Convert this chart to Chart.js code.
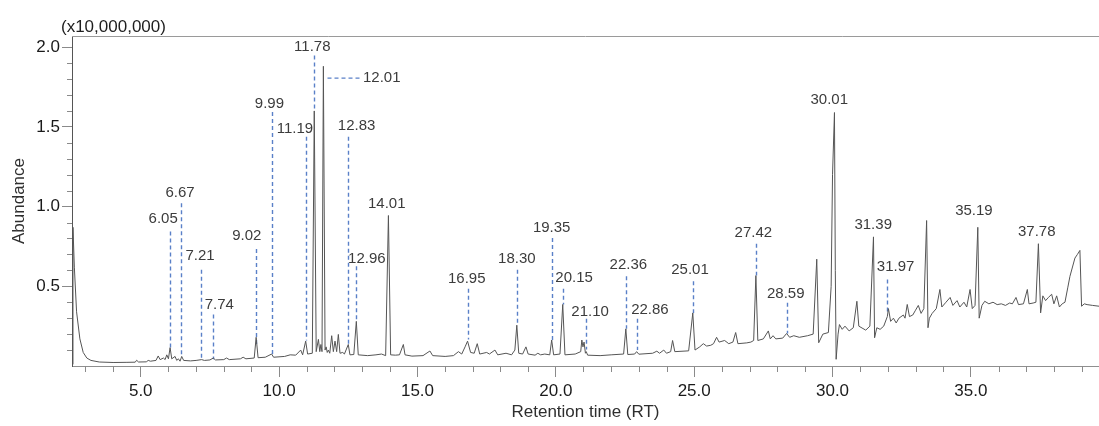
<!DOCTYPE html>
<html>
<head>
<meta charset="utf-8">
<script src="https://cdn.jsdelivr.net/npm/chart.js@4.4.1/dist/chart.umd.min.js"></script>
<style>
  body { margin: 0; background: #fff; }
</style>
</head>
<body>
<canvas id="gc" width="1099" height="426"></canvas>
<script>
// chromatogram trace (RT in min, abundance x10,000,000)
var rt = [2.52, 2.55, 2.60, 2.68, 2.80, 2.92, 3.05, 3.2, 3.5, 4.0, 4.5, 4.8, 4.85, 4.92, 5.2, 5.27, 5.35, 5.55, 5.63, 5.7,
  5.82, 5.88, 5.94, 6.0, 6.06, 6.12, 6.24, 6.3, 6.36, 6.42, 6.48, 6.55, 6.8, 7.0, 7.2, 7.3, 7.5, 7.62, 7.7, 8.0,
  8.1, 8.2, 8.6, 8.7, 8.8, 9.1, 9.17, 9.24, 9.5, 9.73, 9.8, 10.2, 10.4, 10.6, 10.78, 10.85, 10.96, 11.03, 11.2, 11.27,
  11.34, 11.42, 11.47, 11.51, 11.55, 11.60, 11.66, 11.70, 11.74, 11.78, 11.83, 11.90, 11.96, 12.02, 12.08, 12.14, 12.2, 12.3, 12.36, 12.50,
  12.56, 12.7, 12.79, 12.86, 13.2, 13.5, 13.7, 13.85, 13.95, 14.03, 14.2, 14.35, 14.49, 14.55, 14.8, 15.2, 15.45, 15.55, 16.0, 16.3,
  16.48, 16.6, 16.72, 16.81, 16.92, 17.05, 17.16, 17.25, 17.5, 17.6, 17.8, 17.9, 18.2, 18.4, 18.52, 18.59, 18.66, 18.8, 18.92, 19.0,
  19.25, 19.35, 19.45, 19.6, 19.78, 19.85, 19.92, 20.15, 20.25, 20.33, 20.7, 20.9, 20.94, 20.98, 21.02, 21.07, 21.1, 21.15, 21.6, 22.0,
  22.45, 22.53, 22.6, 22.85, 22.92, 23.0, 23.5, 23.65, 23.75, 23.9, 24.0, 24.15, 24.22, 24.3, 24.8, 24.95, 25.03, 25.2, 25.33, 25.45,
  25.6, 25.7, 25.81, 25.9, 26.1, 26.25, 26.4, 26.5, 26.58, 26.9, 27.05, 27.15, 27.23, 27.3, 27.5, 27.68, 27.75, 27.85, 27.95, 28.2,
  28.34, 28.45, 28.6, 28.8, 29.1, 29.3, 29.43, 29.5, 29.65, 29.85, 29.95, 30.0, 30.07, 30.10, 30.13, 30.2, 30.25, 30.35, 30.45, 30.6,
  30.75, 30.88, 30.95, 31.1, 31.2, 31.35, 31.48, 31.52, 31.6, 31.72, 31.85, 31.98, 32.02, 32.1, 32.2, 32.3, 32.4, 32.56, 32.62, 32.7,
  32.78, 32.9, 33.0, 33.1, 33.2, 33.3, 33.4, 33.45, 33.5, 33.6, 33.75, 33.88, 33.95, 34.1, 34.25, 34.35, 34.5, 34.6, 34.75, 34.85,
  34.97, 35.05, 35.15, 35.25, 35.3, 35.4, 35.5, 35.65, 35.8, 35.95, 36.1, 36.25, 36.4, 36.5, 36.63, 36.72, 36.9, 37.04, 37.1, 37.25,
  37.35, 37.44, 37.52, 37.6, 37.7, 37.8, 37.92, 38.0, 38.1, 38.2, 38.3, 38.4, 38.5, 38.58, 38.76, 38.85, 38.94, 39.0, 39.1, 39.2,
  39.4, 39.63];
var abundance = [0.01, 0.87, 0.62, 0.34, 0.17, 0.085, 0.05, 0.035, 0.025, 0.022, 0.023, 0.024, 0.036, 0.025, 0.026, 0.035, 0.03, 0.035, 0.063, 0.04,
  0.05, 0.04, 0.07, 0.045, 0.115, 0.045, 0.06, 0.035, 0.045, 0.03, 0.06, 0.035, 0.032, 0.035, 0.04, 0.035, 0.038, 0.05, 0.038, 0.04,
  0.05, 0.04, 0.045, 0.055, 0.045, 0.05, 0.18, 0.052, 0.055, 0.075, 0.055, 0.06, 0.07, 0.068, 0.10, 0.07, 0.156, 0.075, 0.08, 1.60,
  0.09, 0.167, 0.09, 0.135, 0.09, 1.88, 0.10, 0.12, 0.085, 0.10, 0.08, 0.19, 0.09, 0.156, 0.09, 0.198, 0.08, 0.085, 0.075, 0.135,
  0.07, 0.072, 0.28, 0.07, 0.065, 0.07, 0.075, 0.065, 0.944, 0.07, 0.068, 0.07, 0.135, 0.07, 0.062, 0.065, 0.094, 0.065, 0.06, 0.065,
  0.09, 0.075, 0.12, 0.156, 0.085, 0.08, 0.14, 0.075, 0.085, 0.075, 0.10, 0.07, 0.08, 0.07, 0.10, 0.256, 0.08, 0.075, 0.12, 0.075,
  0.068, 0.08, 0.07, 0.075, 0.07, 0.163, 0.07, 0.075, 0.386, 0.07, 0.075, 0.09, 0.163, 0.12, 0.15, 0.08, 0.09, 0.068, 0.065, 0.07,
  0.075, 0.233, 0.072, 0.075, 0.09, 0.074, 0.08, 0.093, 0.08, 0.10, 0.08, 0.09, 0.16, 0.09, 0.095, 0.333, 0.10, 0.12, 0.14, 0.125,
  0.13, 0.14, 0.18, 0.15, 0.16, 0.14, 0.15, 0.21, 0.14, 0.145, 0.15, 0.16, 0.567, 0.16, 0.17, 0.22, 0.17, 0.19, 0.17, 0.175,
  0.204, 0.18, 0.19, 0.18, 0.19, 0.20, 0.67, 0.146, 0.20, 0.21, 0.5, 1.2, 1.59, 0.6, 0.042, 0.20, 0.26, 0.23, 0.25, 0.22,
  0.24, 0.406, 0.25, 0.235, 0.225, 0.25, 0.81, 0.177, 0.24, 0.23, 0.25, 0.31, 0.36, 0.28, 0.30, 0.27, 0.30, 0.32, 0.30, 0.386,
  0.31, 0.32, 0.35, 0.38, 0.33, 0.36, 0.9125, 0.24, 0.30, 0.33, 0.36, 0.48, 0.37, 0.40, 0.43, 0.38, 0.41, 0.37, 0.40, 0.37,
  0.48, 0.36, 0.38, 0.87, 0.30, 0.38, 0.406, 0.39, 0.40, 0.385, 0.39, 0.38, 0.395, 0.39, 0.43, 0.385, 0.39, 0.48, 0.39, 0.395,
  0.40, 0.767, 0.333, 0.44, 0.41, 0.43, 0.45, 0.39, 0.44, 0.37, 0.39, 0.40, 0.49, 0.5625, 0.677, 0.70, 0.725, 0.375, 0.39, 0.385,
  0.38, 0.375];

// peak labels: text position and the dashed leader under each one (null = no leader)
var peakNames = ['6.05', '6.67', '7.21', '7.74', '9.02', '9.99', '11.19', '11.78', '12.01', '12.83', '12.96', '14.01',
  '16.95', '18.30', '19.35', '20.15', '21.10', '22.36', '22.86', '25.01', '27.42', '28.59', '30.01', '31.39', '31.97', '35.19', '37.78'];
var labelRT = [5.81, 6.42, 7.14, 7.84, 8.83, 9.65, 10.57, 11.20, 13.71, 12.80, 13.17, 13.89,
  16.78, 18.59, 19.85, 20.66, 21.24, 22.62, 23.40, 24.85, 27.14, 28.31, 29.88, 31.47, 32.28, 35.11, 37.38];
var labelAb = [0.921, 1.084, 0.692, 0.381, 0.817, 1.646, 1.490, 2.000, 1.806, 1.504, 0.671, 1.017,
  0.546, 0.671, 0.865, 0.553, 0.338, 0.636, 0.354, 0.604, 0.834, 0.454, 1.667, 0.886, 0.619, 0.975, 0.844];
var leaderRT1 = [6.06, 6.45, 7.17, 7.62, 9.17, 9.73, 10.96, 11.27, 11.72, 12.50, 12.79, null,
  16.82, 18.59, 19.85, 20.25, 21.09, 22.53, 22.92, 24.95, 27.23, 28.34, null, null, 31.98, null, null];
var leaderRT2 = [6.06, 6.45, 7.17, 7.62, 9.17, 9.73, 10.96, 11.27, 12.99, 12.50, 12.79, null,
  16.82, 18.59, 19.85, 20.25, 21.09, 22.53, 22.92, 24.95, 27.23, 28.34, null, null, 31.98, null, null];
var leaderTop = [0.844, 1.021, 0.604, 0.323, 0.734, 1.594, 1.438, 1.948, 1.806, 1.438, 0.625, null,
  0.484, 0.604, 0.803, 0.484, 0.296, 0.563, 0.296, 0.531, 0.767, 0.396, null, null, 0.542, null, null];
var leaderBottom = [0.115, 0.0625, 0.042, 0.042, 0.125, 0.073, 0.16, 1.60, 1.806, 0.135, 0.29, null,
  0.167, 0.26, 0.146, 0.386, 0.104, 0.234, 0.10, 0.333, 0.567, 0.204, null, null, 0.333, null, null];

var FONT = '"Liberation Sans", Arial, sans-serif';

var points = rt.map(function (t, i) { return { x: t, y: abundance[i] }; });

var isMajorX = function (v) { return Math.abs(v / 5 - Math.round(v / 5)) < 1e-6; };
var isMajorY = function (v) { return v > 0.01 && Math.abs(v * 2 - Math.round(v * 2)) < 1e-6; };

var peakLabels = {
  id: 'peakLabels',
  beforeDatasetsDraw: function (chart) {
    var ctx = chart.ctx, xs = chart.scales.x, ys = chart.scales.y;
    ctx.save();
    ctx.strokeStyle = '#5a80c8';
    ctx.lineWidth = 1.4;
    ctx.setLineDash([4, 3]);
    for (var i = 0; i < peakNames.length; i++) {
      if (leaderRT1[i] === null) continue;
      ctx.beginPath();
      ctx.moveTo(Math.round(xs.getPixelForValue(leaderRT1[i])) + 0.5, ys.getPixelForValue(leaderTop[i]));
      ctx.lineTo(Math.round(xs.getPixelForValue(leaderRT2[i])) + 0.5, ys.getPixelForValue(leaderBottom[i]));
      ctx.stroke();
    }
    ctx.restore();
  },
  afterDatasetsDraw: function (chart) {
    var ctx = chart.ctx, xs = chart.scales.x, ys = chart.scales.y;
    ctx.save();
    ctx.fillStyle = '#3c3c3c';
    ctx.font = '15px ' + FONT;
    ctx.textAlign = 'center';
    ctx.textBaseline = 'middle';
    for (var i = 0; i < peakNames.length; i++) {
      ctx.fillText(peakNames[i], xs.getPixelForValue(labelRT[i]), ys.getPixelForValue(labelAb[i]));
    }
    ctx.restore();
  }
};

var axisExtras = {
  id: 'axisExtras',
  afterDraw: function (chart) {
    var ctx = chart.ctx, a = chart.chartArea, xs = chart.scales.x, ys = chart.scales.y;
    ctx.save();
    // frame line along the top
    ctx.strokeStyle = '#9a9a9a';
    ctx.lineWidth = 1;
    ctx.beginPath();
    ctx.moveTo(a.left, Math.round(a.top) + 0.5);
    ctx.lineTo(a.right, Math.round(a.top) + 0.5);
    ctx.stroke();
    // minor ticks
    ctx.strokeStyle = '#8a8a8a';
    xs.ticks.forEach(function (t) {
      if (isMajorX(t.value)) return;
      var px = Math.round(xs.getPixelForValue(t.value)) + 0.5;
      ctx.beginPath(); ctx.moveTo(px, a.bottom); ctx.lineTo(px, a.bottom + 6); ctx.stroke();
    });
    ys.ticks.forEach(function (t) {
      if (isMajorY(t.value) || t.value < 0.01) return;
      var py = Math.round(ys.getPixelForValue(t.value)) + 0.5;
      ctx.beginPath(); ctx.moveTo(a.left - 5, py); ctx.lineTo(a.left, py); ctx.stroke();
    });
    // multiplier above the y axis
    ctx.fillStyle = '#1e1e1e';
    ctx.font = '17px ' + FONT;
    ctx.textAlign = 'left';
    ctx.textBaseline = 'middle';
    ctx.fillText('(x10,000,000)', 61, 27);
    ctx.restore();
  }
};

var gc = new Chart(document.getElementById('gc'), {
  type: 'line',
  data: {
    datasets: [{
      label: 'TIC',
      data: points,
      borderColor: '#555555',
      borderWidth: 1,
      pointRadius: 0,
      fill: false,
      tension: 0
    }]
  },
  options: {
    responsive: false,
    animation: false,
    layout: { padding: { top: 36, right: 0, left: 0, bottom: 0 } },
    plugins: { legend: { display: false }, tooltip: { enabled: false } },
    scales: {
      x: {
        type: 'linear',
        min: 2.515,
        max: 39.63,
        afterFit: function (s) { s.height = 60; },
        border: { display: true, color: '#8f8f8f', width: 1 },
        grid: {
          drawOnChartArea: false,
          tickLength: 11,
          tickColor: function (c) { return c.tick && isMajorX(c.tick.value) ? '#8a8a8a' : 'rgba(0,0,0,0)'; }
        },
        ticks: {
          stepSize: 1,
          includeBounds: false,
          autoSkip: false,
          maxRotation: 0,
          padding: 4,
          color: '#1a1a1a',
          font: { family: FONT, size: 17 },
          callback: function (v) { return isMajorX(v) ? Number(v).toFixed(1) : ''; }
        },
        title: {
          display: true,
          text: 'Retention time (RT)',
          color: '#2e2e2e',
          font: { family: FONT, size: 17 },
          padding: { top: 0, bottom: 3 }
        }
      },
      y: {
        min: 0,
        max: 2.07,
        afterFit: function (s) { s.width = 72; },
        border: { display: true, color: '#555555', width: 1 },
        grid: {
          drawOnChartArea: false,
          tickLength: 10,
          tickColor: function (c) { return c.tick && isMajorY(c.tick.value) ? '#8a8a8a' : 'rgba(0,0,0,0)'; }
        },
        ticks: {
          stepSize: 0.1,
          includeBounds: false,
          autoSkip: false,
          padding: 2,
          color: '#1a1a1a',
          font: { family: FONT, size: 17 },
          callback: function (v) { return isMajorY(v) ? Number(v).toFixed(1) : ''; }
        },
        title: {
          display: true,
          text: 'Abundance',
          color: '#2e2e2e',
          font: { family: FONT, size: 17 },
          padding: { top: 9, bottom: 0 }
        }
      }
    }
  },
  plugins: [peakLabels, axisExtras]
});
</script>
</body>
</html>
